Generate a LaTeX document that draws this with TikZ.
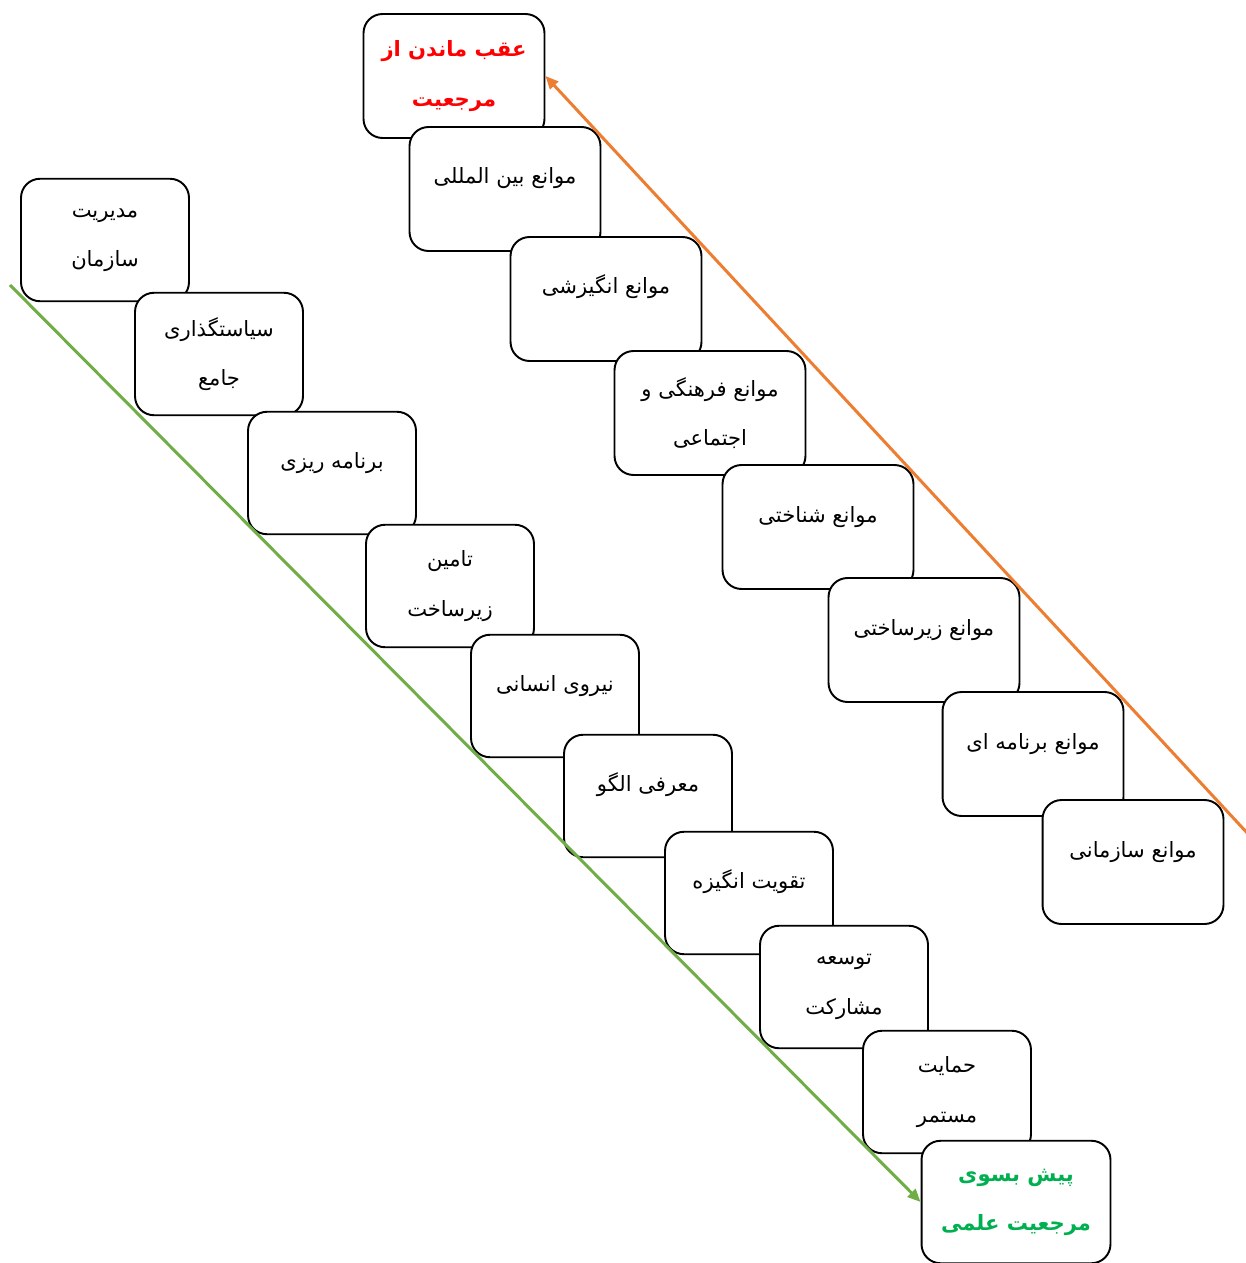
\documentclass[tikz,border=0pt]{standalone}
\usepackage{fontspec}
\usetikzlibrary{arrows.meta}
\newfontfamily\arabicfont[Script=Arabic]{DejaVu Sans}
\TeXXeTstate=1
\newcommand{\fatext}[1]{\beginR #1\endR}
\definecolor{orangeline}{RGB}{237,125,49}
\definecolor{greenline}{RGB}{112,173,71}
\definecolor{goaltext}{RGB}{0,176,80}

\begin{document}
\begin{tikzpicture}
    [x=0.02cm, y=-0.02cm, >={Triangle[length=0.26cm, width=0.22cm]},
     every node/.style={draw, fill=white, rounded corners=0.38cm, line width=1.1pt,
       align=center, font=\arabicfont\fontsize{12}{28}\selectfont},
     wide/.style={minimum width=3.82cm, minimum height=2.48cm},
     mid/.style={minimum width=3.62cm, minimum height=2.48cm},
     narrow/.style={minimum width=3.36cm, minimum height=2.45cm},
     one/.style={text height=0.35cm, text depth=0.55cm}]
  \useasboundingbox (0,0) rectangle (1245,1263);

  % obstacles
  \node[mid, text=red] (R1) at (454,76) {\bfseries\fatext{عقب ماندن از}\\ \bfseries\fatext{مرجعیت}};
  \node[wide, one] (R2) at (505,189) {\fatext{موانع بین المللی}};
  \node[wide, one] (R3) at (606,299) {\fatext{موانع انگیزشی}};
  \node[wide] (R4) at (710,413) {\fatext{موانع فرهنگی و}\\ \fatext{اجتماعی}};
  \node[wide, one] (R5) at (818,527) {\fatext{موانع شناختی}};
  \node[wide, one] (R6) at (924,640) {\fatext{موانع زیرساختی}};
  \node[mid, one] (R7) at (1033,754) {\fatext{موانع برنامه ای}};
  \node[mid, one] (R8) at (1133,862) {\fatext{موانع سازمانی}};

  % steps forward
  \node[narrow] (L1) at (105,240) {\fatext{مدیریت}\\ \fatext{سازمان}};
  \node[narrow] (L2) at (219,354) {\fatext{سیاستگذاری}\\ \fatext{جامع}};
  \node[narrow, one] (L3) at (332,473) {\fatext{برنامه ریزی}};
  \node[narrow] (L4) at (450,586) {\fatext{تامین}\\ \fatext{زیرساخت}};
  \node[narrow, one] (L5) at (555,696) {\fatext{نیروی انسانی}};
  \node[narrow, one] (L6) at (648,796) {\fatext{معرفی الگو}};
  \node[narrow, one] (L7) at (749,893) {\fatext{تقویت انگیزه}};
  \node[narrow] (L8) at (844,987) {\fatext{توسعه}\\ \fatext{مشارکت}};
  \node[narrow] (L9) at (947,1092) {\fatext{حمایت}\\ \fatext{مستمر}};
  \node[narrow, minimum width=3.78cm, text=goaltext] (L10) at (1016,1202)
    {\bfseries\fatext{پیش بسوی}\\ \bfseries\fatext{مرجعیت علمی}};

  \coordinate (oStart) at (1250,836);
  \coordinate (gStart) at (10,285);
  \draw[->, orangeline, line width=1.7pt] (oStart) -- (R1.east);
  \draw[->, greenline, line width=1.7pt] (gStart) -- (L10.west);
\end{tikzpicture}
\end{document}
